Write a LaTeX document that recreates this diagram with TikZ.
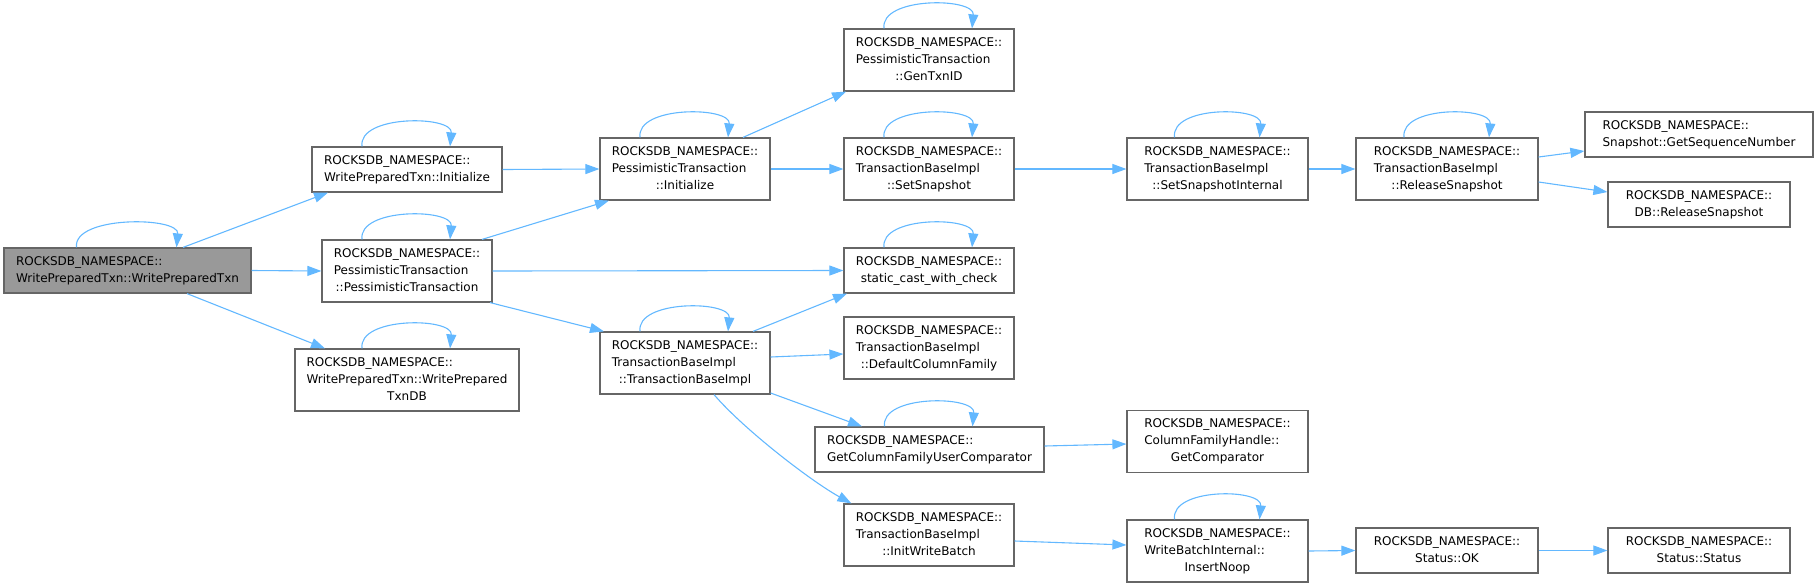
\documentclass[tikz,border=0pt]{standalone}
\usepackage{fontspec}
\newfontfamily\dvs{DejaVu Sans}
\usetikzlibrary{arrows.meta}
\definecolor{edgeblue}{HTML}{63B8FF}
\definecolor{boxborder}{HTML}{666666}
\definecolor{maingray}{HTML}{999999}
\newcommand\twol[2]{\begin{tabular}{@{}l@{}}#1\\\multicolumn{1}{@{}c@{}}{#2}\end{tabular}}
\newcommand\threel[3]{\begin{tabular}{@{}l@{}}#1\\#2\\\multicolumn{1}{@{}c@{}}{#3}\end{tabular}}
\newcommand\rns{ROCKSDB\_NAMESPACE::}
\newcommand\selfloop[3]{\draw[edge] ([xshift=-#2pt]#1.north) .. controls +(-4,-32) and +(3,-31) .. ([xshift=#3pt]#1.north);}
\tikzset{
  box/.style={draw=boxborder, fill=white, line width=1.2pt, inner sep=0pt,
    font={\dvs\fontsize{12}{17}\selectfont}},
  b2/.style={box, minimum height=45pt},
  b3/.style={box, minimum height=62pt},
  edge/.style={draw=edgeblue, line width=1.1pt, -{Triangle[length=14pt,width=10pt]}}
}
\begin{document}
\begin{tikzpicture}[x=1pt,y=-1pt]
\useasboundingbox (0,0) rectangle (1818,587);
% nodes
\node[b2, minimum width=247pt, fill=maingray] (main) at (127.5,270.5) {\twol{\rns}{WritePreparedTxn::WritePreparedTxn}};
\node[b2, minimum width=190pt] (wptinit) at (407,169.5) {\twol{\rns}{WritePreparedTxn::Initialize}};
\node[b3, minimum width=170pt] (ptpt) at (407,271) {\threel{\rns}{PessimisticTransaction}{::PessimisticTransaction}};
\node[b3, minimum width=224pt] (wptdb) at (407,380) {\threel{\rns}{WritePreparedTxn::WritePrepared}{TxnDB}};
\node[b3, minimum width=170pt] (ptinit) at (685,169) {\threel{\rns}{PessimisticTransaction}{::Initialize}};
\node[b3, minimum width=170pt] (tbi) at (685,363) {\threel{\rns}{TransactionBaseImpl}{::TransactionBaseImpl}};
\node[b3, minimum width=170pt] (gentxn) at (929,60) {\threel{\rns}{PessimisticTransaction}{::GenTxnID}};
\node[b3, minimum width=170pt] (setsnap) at (929,169) {\threel{\rns}{TransactionBaseImpl}{::SetSnapshot}};
\node[b2, minimum width=170pt] (scwc) at (929,270.5) {\twol{\rns}{static\_cast\_with\_check}};
\node[b3, minimum width=170pt] (dcf) at (929,348) {\threel{\rns}{TransactionBaseImpl}{::DefaultColumnFamily}};
\node[b2, minimum width=229pt] (gcfuc) at (929.5,449.5) {\twol{\rns}{GetColumnFamilyUserComparator}};
\node[b3, minimum width=170pt] (iwb) at (929,535) {\threel{\rns}{TransactionBaseImpl}{::InitWriteBatch}};
\node[b3, minimum width=181pt] (ssi) at (1217.5,169) {\threel{\rns}{TransactionBaseImpl}{::SetSnapshotInternal}};
\node[b3, minimum width=182pt] (relsnap) at (1447,169) {\threel{\rns}{TransactionBaseImpl}{::ReleaseSnapshot}};
\node[b2, minimum width=228pt] (gsn) at (1699,134.5) {\twol{\rns}{Snapshot::GetSequenceNumber}};
\node[b2, minimum width=182pt] (dbrel) at (1699,204.5) {\twol{\rns}{DB::ReleaseSnapshot}};
\node[b3, minimum width=181pt] (cfhgc) at (1217.5,441.5) {\threel{\rns}{ColumnFamilyHandle::}{GetComparator}};
\node[b3, minimum width=181pt] (insnoop) at (1217.5,551) {\threel{\rns}{WriteBatchInternal::}{InsertNoop}};
\node[b2, minimum width=182pt] (statok) at (1447,550.5) {\twol{\rns}{Status::OK}};
\node[b2, minimum width=182pt] (statstat) at (1699,550.5) {\twol{\rns}{Status::Status}};
% self loops
\selfloop{main}{51}{49}
\selfloop{wptinit}{45}{43}
\selfloop{ptpt}{45}{43}
\selfloop{wptdb}{45}{43}
\selfloop{ptinit}{45}{43}
\selfloop{tbi}{45}{43}
\selfloop{gentxn}{45}{43}
\selfloop{setsnap}{45}{43}
\selfloop{scwc}{45}{43}
\selfloop{gcfuc}{45}{43}
\selfloop{ssi}{43}{42}
\selfloop{relsnap}{43}{42}
\selfloop{insnoop}{43}{42}
% edges
\draw[edge] ([xshift=55.5pt]main.north) -- ([xshift=-79pt]wptinit.south);
\draw[edge] (main.east) -- (ptpt.west);
\draw[edge] ([xshift=59.5pt]main.south) -- ([xshift=-82pt]wptdb.north);
\draw[edge] (wptinit.east) -- (ptinit.west);
\draw[edge] ([xshift=75pt]ptpt.north) -- ([xshift=-76pt]ptinit.south);
\draw[edge] (ptpt.east) -- (scwc.west);
\draw[edge] ([xshift=83pt]ptpt.south) -- ([xshift=-81pt]tbi.north);
\draw[edge] ([xshift=58pt]ptinit.north) -- ([xshift=-83pt]gentxn.south);
\draw[edge] (ptinit.east) -- (setsnap.west);
\draw[edge] (setsnap.east) -- (ssi.west);
\draw[edge] (ssi.east) -- (relsnap.west);
\draw[edge] ([yshift=12pt]relsnap.east) -- ([yshift=-16.5pt]gsn.west);
\draw[edge] ([yshift=-13pt]relsnap.east) -- ([yshift=12.5pt]dbrel.west);
\draw[edge] ([xshift=68pt]tbi.north) -- ([xshift=-82pt]scwc.south);
\draw[edge] ([yshift=6pt]tbi.east) -- ([yshift=-6pt]dcf.west);
\draw[edge] ([yshift=-30pt]tbi.east) -- ([xshift=-67.5pt]gcfuc.north);
\draw[edge] ([xshift=29pt]tbi.south) .. controls +(30,35) and +(-40,-22) .. ([xshift=8pt]iwb.north west);
\draw[edge] ([yshift=3.5pt]gcfuc.east) -- ([yshift=-2.5pt]cfhgc.west);
\draw[edge] ([yshift=-6pt]iwb.east) -- ([yshift=6pt]insnoop.west);
\draw[edge] (insnoop.east) -- (statok.west);
\draw[edge] (statok.east) -- (statstat.west);
\end{tikzpicture}
\end{document}
